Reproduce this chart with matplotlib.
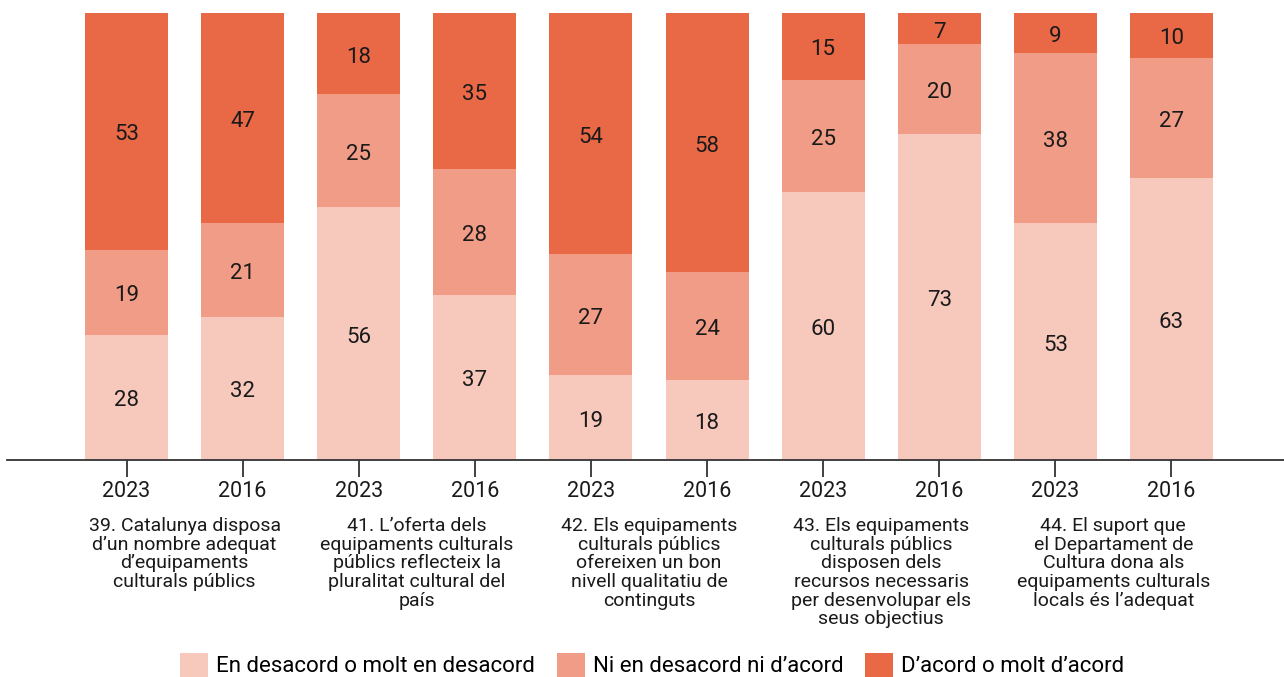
import numpy as np
import matplotlib
matplotlib.use('Agg')
import matplotlib.pyplot as plt
from matplotlib.patches import Patch

plt.rcParams['font.family'] = ['Roboto', 'DejaVu Sans']

# Data
years = ['2023', '2016', '2023', '2016', '2023', '2016', '2023', '2016', '2023', '2016']
desacord = [28, 32, 56, 37, 19, 18, 60, 73, 53, 63]
neutral = [19, 21, 25, 28, 27, 24, 25, 20, 38, 27]
acord = [53, 47, 18, 35, 54, 58, 15, 7, 9, 10]
questions = [
    '39. Catalunya disposa\nd\u2019un nombre adequat\nd\u2019equipaments\nculturals públics',
    '41. L\u2019oferta dels\nequipaments culturals\npúblics reflecteix la\npluralitat cultural del\npaís',
    '42. Els equipaments\nculturals públics\nofereixen un bon\nnivell qualitatiu de\ncontinguts',
    '43. Els equipaments\nculturals públics\ndisposen dels\nrecursos necessaris\nper desenvolupar els\nseus objectius',
    '44. El suport que\nel Departament de\nCultura dona als\nequipaments culturals\nlocals és l\u2019adequat',
]
series_names = ['En desacord o molt en desacord', 'Ni en desacord ni d\u2019acord', 'D\u2019acord o molt d\u2019acord']
colors = ['#F7C8BC', '#F19C86', '#E96947']

W, H = 1284, 677
fig = plt.figure(figsize=(W / 100, H / 100), dpi=100)
ax = fig.add_axes([7 / W, (H - 460) / H, 1 - 7 / W, (460 - 13) / H])

x = np.arange(len(years))
vals = np.array([desacord, neutral, acord], dtype=float)
shares = vals / vals.sum(axis=0) * 100  # stretch to 100%

bottom = np.zeros(len(years))
for k in range(3):
    ax.bar(x, shares[k], 0.715, bottom=bottom, color=colors[k], linewidth=0)
    for i in range(len(years)):
        ax.annotate(str(int(vals[k][i])), (x[i], bottom[i] + shares[k][i] / 2),
                    xytext=(0, -2.5), textcoords='offset points',
                    ha='center', va='center', fontsize=16, color='#1a1a1a')
    bottom += shares[k]

ax.set_xlim(-1.03, 9.97)
ax.set_ylim(0, 100)
for s in ['top', 'right', 'left']:
    ax.spines[s].set_visible(False)
ax.spines['bottom'].set_color('#333333')
ax.spines['bottom'].set_linewidth(1.3)
ax.set_yticks([])
ax.set_xticks(x)
ax.set_xticklabels(years, fontsize=15.5, color='#1a1a1a')
ax.tick_params(axis='x', length=12, width=1.3, color='#333333', pad=3)

# question texts under each pair
for j, q in enumerate(questions):
    xc = (x[2 * j] + x[2 * j + 1]) / 2
    ax.annotate(q, (xc, 0), xycoords=('data', 'axes fraction'),
                xytext=(0, -41), textcoords='offset points',
                ha='center', va='top', fontsize=14, linespacing=1.05, color='#1a1a1a')

handles = [Patch(facecolor=c, edgecolor='none') for c in colors]
fig.legend(handles, series_names, loc='lower center', bbox_to_anchor=(0.508, -0.03),
           ncol=3, frameon=False, fontsize=16, handlelength=1.25, handleheight=1.3,
           handletextpad=0.35, columnspacing=1.0)

fig.savefig('out.png', dpi=100)
